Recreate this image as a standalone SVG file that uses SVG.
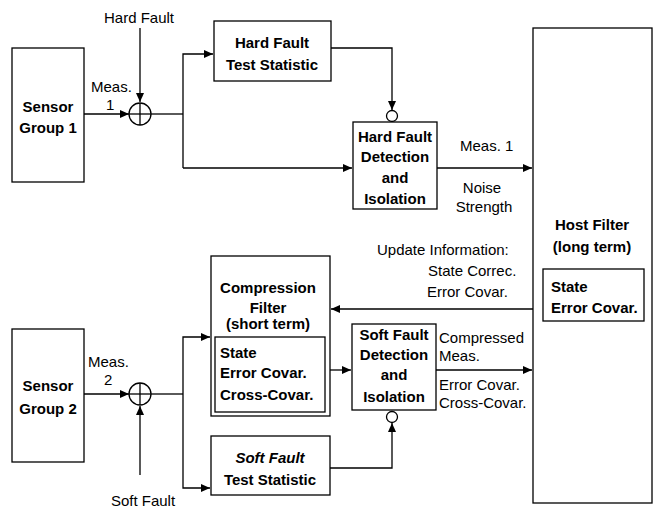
<svg xmlns="http://www.w3.org/2000/svg" width="656" height="513" viewBox="0 0 656 513">
<defs>
<marker id="ah" markerWidth="10" markerHeight="8" refX="9" refY="4" orient="auto" markerUnits="userSpaceOnUse">
<path d="M0,0 L9,4 L0,8 Z" fill="#000"/>
</marker>
<style>
.box{fill:#fff;stroke:#000;stroke-width:1.3}
.b{font-family:"Liberation Sans",Arial,sans-serif;font-weight:bold;font-size:15px;fill:#000}
.l{font-family:"Liberation Sans",Arial,sans-serif;font-size:15px;fill:#000}
.c{stroke:#000;stroke-width:1.3;fill:none}
.m{text-anchor:middle}
</style>
</defs>
<rect width="656" height="513" fill="#fff"/>

<g id="connectors">
<line class="c" x1="84" y1="114" x2="129" y2="114" marker-end="url(#ah)"/>
<line class="c" x1="140" y1="28" x2="140" y2="102" marker-end="url(#ah)"/>
<polyline class="c" points="151,114 183,114"/>
<polyline class="c" points="183,168 183,54 213,54" marker-end="url(#ah)"/>
<line class="c" x1="183" y1="168" x2="352" y2="168" marker-end="url(#ah)"/>
<polyline class="c" points="331,48 392,48 392,110" marker-end="url(#ah)"/>
<line class="c" x1="437" y1="168" x2="532" y2="168" marker-end="url(#ah)"/>
<line class="c" x1="533" y1="309" x2="331" y2="309" marker-end="url(#ah)"/>
<line class="c" x1="84" y1="394" x2="129" y2="394" marker-end="url(#ah)"/>
<line class="c" x1="140" y1="475" x2="140" y2="406" marker-end="url(#ah)"/>
<polyline class="c" points="151,394 183,394"/>
<polyline class="c" points="183,394 183,337 210,337" marker-end="url(#ah)"/>
<polyline class="c" points="183,394 183,488 210,488" marker-end="url(#ah)"/>
<line class="c" x1="330" y1="370" x2="351" y2="370" marker-end="url(#ah)"/>
<polyline class="c" points="330,468 392,468 392,423" marker-end="url(#ah)"/>
<line class="c" x1="436" y1="370" x2="532" y2="370" marker-end="url(#ah)"/>
</g>

<g id="sum1">
<circle class="c" cx="140" cy="114" r="11"/>
<line class="c" x1="129" y1="114" x2="151" y2="114"/>
<line class="c" x1="140" y1="103" x2="140" y2="125"/>
</g>
<g id="sum2">
<circle class="c" cx="140" cy="394" r="11"/>
<line class="c" x1="129" y1="394" x2="151" y2="394"/>
<line class="c" x1="140" y1="383" x2="140" y2="405"/>
</g>

<g id="sensor1">
<rect class="box" x="12" y="48" width="72" height="134"/>
<text class="b m" x="48" y="112">Sensor</text>
<text class="b m" x="48" y="133">Group 1</text>
</g>

<g id="sensor2">
<rect class="box" x="12" y="329" width="72" height="133"/>
<text class="b m" x="48" y="391">Sensor</text>
<text class="b m" x="48" y="414">Group 2</text>
</g>

<g id="hf-test">
<rect class="box" x="214" y="21" width="117" height="60"/>
<text class="b m" x="272" y="48">Hard Fault</text>
<text class="b m" x="272" y="70">Test Statistic</text>
</g>

<g id="hf-detect">
<circle class="c" cx="392" cy="116" r="5.5"/>
<rect class="box" x="353" y="122" width="84" height="87"/>
<text class="b m" x="395" y="142">Hard Fault</text>
<text class="b m" x="395" y="162">Detection</text>
<text class="b m" x="395" y="183">and</text>
<text class="b m" x="395" y="204">Isolation</text>
</g>

<g id="host">
<rect class="box" x="533" y="28" width="119" height="475"/>
<text class="b m" x="592" y="230">Host Filter</text>
<text class="b m" x="592" y="252">(long term)</text>
<rect class="box" x="543" y="269" width="101" height="52"/>
<text class="b" x="551" y="292">State</text>
<text class="b" x="551" y="313">Error Covar.</text>
</g>

<g id="compression">
<rect class="box" x="211" y="256" width="119" height="160"/>
<text class="b m" x="268" y="293">Compression</text>
<text class="b m" x="268" y="313">Filter</text>
<text class="b m" x="268" y="329">(short term)</text>
<rect class="box" x="215" y="337" width="110" height="75"/>
<text class="b" x="220" y="358">State</text>
<text class="b" x="220" y="378">Error Covar.</text>
<text class="b" x="220" y="400">Cross-Covar.</text>
</g>

<g id="sf-test">
<rect class="box" x="211" y="436" width="119" height="59"/>
<text class="b m" x="270" y="463" font-style="italic">Soft Fault</text>
<text class="b m" x="270" y="485">Test Statistic</text>
</g>

<g id="sf-detect">
<rect class="box" x="352" y="324" width="84" height="86"/>
<circle class="c" cx="392" cy="417" r="5.5"/>
<text class="b m" x="394" y="340">Soft Fault</text>
<text class="b m" x="394" y="360">Detection</text>
<text class="b m" x="394" y="380">and</text>
<text class="b m" x="394" y="402">Isolation</text>
</g>

<g id="labels">
<text class="l m" x="139" y="23">Hard Fault</text>
<text class="l" x="91" y="92">Meas.</text>
<text class="l" x="106" y="110">1</text>
<text class="l" x="460" y="151">Meas. 1</text>
<text class="l m" x="482" y="193">Noise</text>
<text class="l m" x="484" y="212">Strength</text>
<text class="l" x="377" y="255">Update Information:</text>
<text class="l" x="428" y="276">State Correc.</text>
<text class="l" x="427" y="297">Error Covar.</text>
<text class="l" x="88" y="367">Meas.</text>
<text class="l" x="104" y="385">2</text>
<text class="l" x="439" y="343">Compressed</text>
<text class="l" x="439" y="361">Meas.</text>
<text class="l" x="439" y="390">Error Covar.</text>
<text class="l" x="439" y="408">Cross-Covar.</text>
<text class="l m" x="143" y="506">Soft Fault</text>
</g>
</svg>
